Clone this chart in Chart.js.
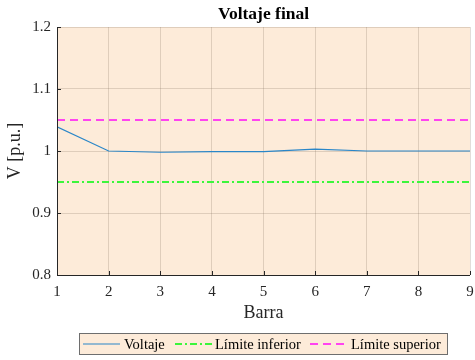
<!DOCTYPE html>
<html>
<head>
<meta charset="utf-8">
<script src="https://cdn.jsdelivr.net/npm/chart.js@4"></script>
<style>
  html, body { margin: 0; padding: 0; background: #ffffff; }
  #wrap { width: 475px; height: 360px; }
</style>
</head>
<body>
<div id="wrap"><canvas id="voltChart" width="475" height="360"></canvas></div>
<script>
// Datos
const barras = [1, 2, 3, 4, 5, 6, 7, 8, 9];
const voltaje = [1.039, 1.000, 0.998, 0.999, 0.999, 1.003, 1.000, 1.000, 1.000];
const limiteInferior = 0.95;
const limiteSuperior = 1.05;
const yTicks = [0.8, 0.9, 1.0, 1.1, 1.2];

const FONT = "'Liberation Serif', 'Times New Roman', serif";
const AXIS_COLOR = '#262626';
const PLOT_BG = '#fdebd9';

/**
 * Fondo del area, marcas hacia adentro, titulos y leyenda
 */
const decorPlugin = {
    id: 'decor',
    beforeDraw(chart) {
        const a = chart.chartArea;
        const ctx = chart.ctx;
        ctx.save();
        ctx.fillStyle = PLOT_BG;
        ctx.fillRect(a.left, a.top, a.right - a.left, a.bottom - a.top);
        ctx.restore();
    },
    afterDraw(chart) {
        const a = chart.chartArea;
        const ctx = chart.ctx;
        const xs = chart.scales.x;
        const ys = chart.scales.y;
        ctx.save();

        // ejes izquierdo e inferior
        ctx.strokeStyle = AXIS_COLOR;
        ctx.lineWidth = 1;
        ctx.beginPath();
        ctx.moveTo(a.left + 0.5, a.top);
        ctx.lineTo(a.left + 0.5, a.bottom + 0.5);
        ctx.lineTo(a.right, a.bottom + 0.5);
        ctx.stroke();

        // marcas hacia adentro
        ctx.beginPath();
        barras.forEach(b => {
            const px = Math.round(xs.getPixelForValue(b)) + 0.5;
            ctx.moveTo(px, a.bottom);
            ctx.lineTo(px, a.bottom - 4);
        });
        yTicks.forEach(v => {
            const py = Math.round(ys.getPixelForValue(v)) + 0.5;
            ctx.moveTo(a.left, py);
            ctx.lineTo(a.left + 4, py);
        });
        ctx.stroke();

        // titulo
        ctx.fillStyle = '#000000';
        ctx.font = 'bold 17.5px ' + FONT;
        ctx.textAlign = 'center';
        ctx.textBaseline = 'middle';
        ctx.fillText('Voltaje final', (a.left + a.right) / 2, 14);

        // titulos de ejes
        ctx.fillStyle = AXIS_COLOR;
        ctx.font = '18px ' + FONT;
        ctx.fillText('Barra', (a.left + a.right) / 2, 313);
        ctx.save();
        ctx.translate(15, (a.top + a.bottom) / 2);
        ctx.rotate(-Math.PI / 2);
        ctx.fillText('V [p.u.]', 0, 0);
        ctx.restore();

        // leyenda
        const lx = 79, ly = 333, lw = 369, lh = 22;
        ctx.fillStyle = PLOT_BG;
        ctx.fillRect(lx, ly, lw, lh);
        ctx.strokeStyle = '#6e6e6e';
        ctx.lineWidth = 1;
        ctx.strokeRect(lx + 0.5, ly + 0.5, lw - 1, lh - 1);

        const cy = ly + lh / 2;
        ctx.font = '14.5px ' + FONT;
        ctx.textAlign = 'left';
        ctx.textBaseline = 'middle';
        const entries = [
            { ds: chart.data.datasets[0], x0: 83, x1: 120, tx: 124 },
            { ds: chart.data.datasets[1], x0: 175, x1: 213, tx: 215 },
            { ds: chart.data.datasets[2], x0: 310, x1: 349, tx: 351 }
        ];
        entries.forEach(e => {
            ctx.strokeStyle = e.ds.borderColor;
            ctx.lineWidth = e.ds.borderWidth;
            ctx.setLineDash(e.ds.borderDash || []);
            ctx.beginPath();
            ctx.moveTo(e.x0, cy);
            ctx.lineTo(e.x1, cy);
            ctx.stroke();
            ctx.setLineDash([]);
            ctx.fillStyle = '#000000';
            ctx.fillText(e.ds.label, e.tx, cy + 1);
        });

        ctx.restore();
    }
};

function toPoints(values) {
    return barras.map((b, i) => ({ x: b, y: values[i] }));
}

const ctx = document.getElementById('voltChart').getContext('2d');

const voltChart = new Chart(ctx, {
    type: 'line',
    data: {
        datasets: [
            {
                label: 'Voltaje',
                data: toPoints(voltaje),
                borderColor: '#2a86c8',
                borderWidth: 1.2,
                pointRadius: 0,
                tension: 0
            },
            {
                label: 'Límite inferior',
                data: toPoints(barras.map(() => limiteInferior)),
                borderColor: '#3cf53c',
                borderWidth: 2,
                borderDash: [7, 3, 2, 3],
                pointRadius: 0
            },
            {
                label: 'Límite superior',
                data: toPoints(barras.map(() => limiteSuperior)),
                borderColor: '#ff44f0',
                borderWidth: 2,
                borderDash: [8, 5],
                pointRadius: 0
            }
        ]
    },
    options: {
        responsive: false,
        animation: false,
        layout: { padding: { top: 27, right: 5, left: 0, bottom: 0 } },
        plugins: {
            legend: { display: false },
            title: { display: false },
            tooltip: { enabled: false }
        },
        scales: {
            x: {
                type: 'linear',
                min: 1,
                max: 9,
                afterFit(scale) {
                    scale.height = 85;
                    scale.paddingLeft = 0;
                    scale.paddingRight = 0;
                },
                afterBuildTicks(scale) { scale.ticks = barras.map(v => ({ value: v })); },
                grid: { color: 'rgba(120, 100, 80, 0.22)', drawTicks: false },
                border: { display: false },
                ticks: {
                    font: { family: FONT, size: 15 },
                    color: AXIS_COLOR,
                    padding: 8,
                    maxRotation: 0
                }
            },
            y: {
                min: 0.8,
                max: 1.2,
                afterFit(scale) {
                    scale.width = 57;
                    scale.paddingTop = 0;
                    scale.paddingBottom = 0;
                },
                afterBuildTicks(scale) { scale.ticks = yTicks.map(v => ({ value: v })); },
                grid: { color: 'rgba(120, 100, 80, 0.22)', drawTicks: false },
                border: { display: false },
                ticks: {
                    font: { family: FONT, size: 15 },
                    color: AXIS_COLOR,
                    padding: 6,
                    callback: v => (Math.round(v * 10) / 10).toString()
                }
            }
        }
    },
    plugins: [decorPlugin]
});
</script>
</body>
</html>
